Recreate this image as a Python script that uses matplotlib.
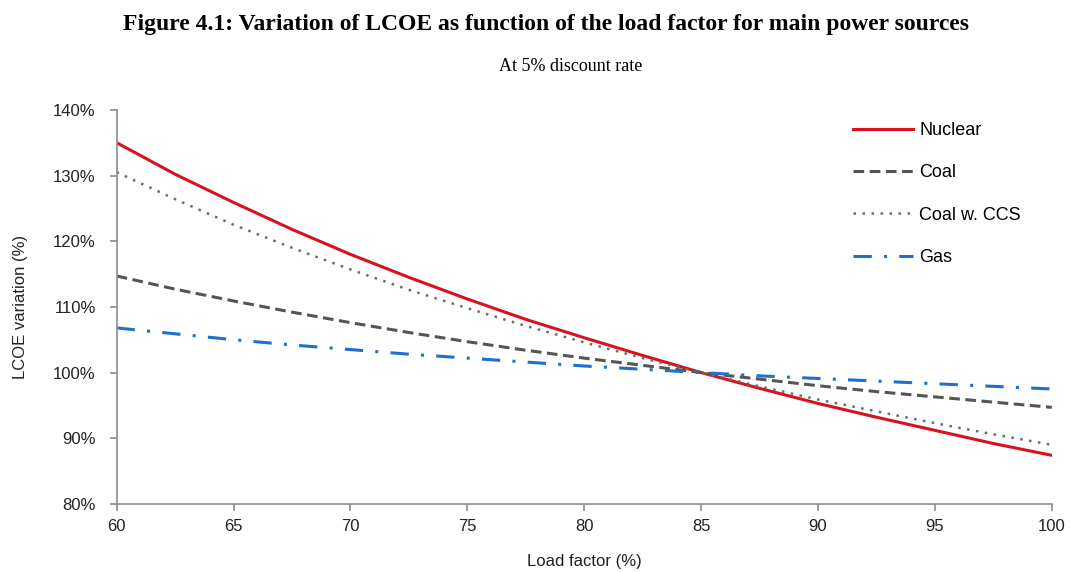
import matplotlib.pyplot as plt
from matplotlib.ticker import FuncFormatter

# load factor (%) and LCOE variation (%)
load_factor = [60, 62.5, 65, 67.5, 70, 72.5, 75, 77.5, 80, 82.5, 85, 87.5, 90, 92.5, 95, 97.5, 100]
nuclear = [135.0, 130.2, 125.9, 121.8, 118.0, 114.5, 111.2, 108.1, 105.3, 102.6, 100.0, 97.6, 95.3, 93.2, 91.2, 89.2, 87.4]
coal = [114.7, 112.7, 110.9, 109.2, 107.6, 106.1, 104.7, 103.4, 102.2, 101.1, 100.0, 99.0, 98.0, 97.1, 96.3, 95.5, 94.7]
coal_ccs = [130.5, 126.4, 122.5, 119.0, 115.7, 112.6, 109.8, 107.1, 104.6, 102.2, 100.0, 97.9, 95.9, 94.1, 92.3, 90.6, 89.0]
gas = [106.8, 105.9, 105.0, 104.2, 103.5, 102.8, 102.2, 101.6, 101.0, 100.5, 100.0, 99.5, 99.1, 98.7, 98.3, 97.9, 97.5]

fig = plt.figure(figsize=(10.7, 5.72), dpi=100)
ax = fig.add_axes([0.109, 0.119, 0.874, 0.689])

ax.plot(load_factor, nuclear, color='#d9101e', lw=2.2, label='Nuclear')
ax.plot(load_factor, coal, color='#555555', lw=2.2, ls=(0, (3.5, 1.8)), label='Coal')
ax.plot(load_factor, coal_ccs, color='#6b6e58', lw=1.8, ls=(0, (1, 2.6)), label='Coal w. CCS')
ax.plot(load_factor, gas, color='#1f6fcf', lw=2.2, ls=(0, (6, 4, 1, 4)), label='Gas')

ax.set_xlim(60, 100)
ax.set_ylim(80, 140)
ax.set_xticks(range(60, 101, 5))
ax.set_yticks(range(80, 141, 10))
ax.yaxis.set_major_formatter(FuncFormatter(lambda v, p: f'{v:.0f}%'))

for s in ['top', 'right']:
    ax.spines[s].set_visible(False)
for s in ['left', 'bottom']:
    ax.spines[s].set_color('#8c8c8c')
    ax.spines[s].set_linewidth(1.2)
ax.tick_params(colors='#8c8c8c', labelcolor='#222222', length=5, width=1.2,
               labelsize=12, direction='out')
ax.tick_params(axis='x', pad=6)
ax.tick_params(axis='y', pad=10)
for t in ax.get_xticklabels() + ax.get_yticklabels():
    t.set_family('Liberation Sans')

ax.set_xlabel('Load factor (%)', fontsize=12, family='Liberation Sans', color='#222222', labelpad=14)
ax.set_ylabel('LCOE variation (%)', fontsize=12, family='Liberation Sans', color='#222222', labelpad=18)

leg = ax.legend(loc='upper right', bbox_to_anchor=(0.967, 0.969), frameon=False,
                prop={'family': 'Liberation Sans', 'size': 13},
                handlelength=3.3, handletextpad=0.35, labelspacing=1.40,
                borderpad=0, borderaxespad=0)

fig.text(0.51, 0.958, 'Figure 4.1: Variation of LCOE as function of the load factor for main power sources',
         ha='center', va='center', fontsize=17, fontweight='bold', family='Liberation Serif')
fig.text(0.533, 0.884, 'At 5% discount rate', ha='center', va='center', fontsize=13,
         family='Liberation Serif')

fig.savefig('out.png', dpi=100)
